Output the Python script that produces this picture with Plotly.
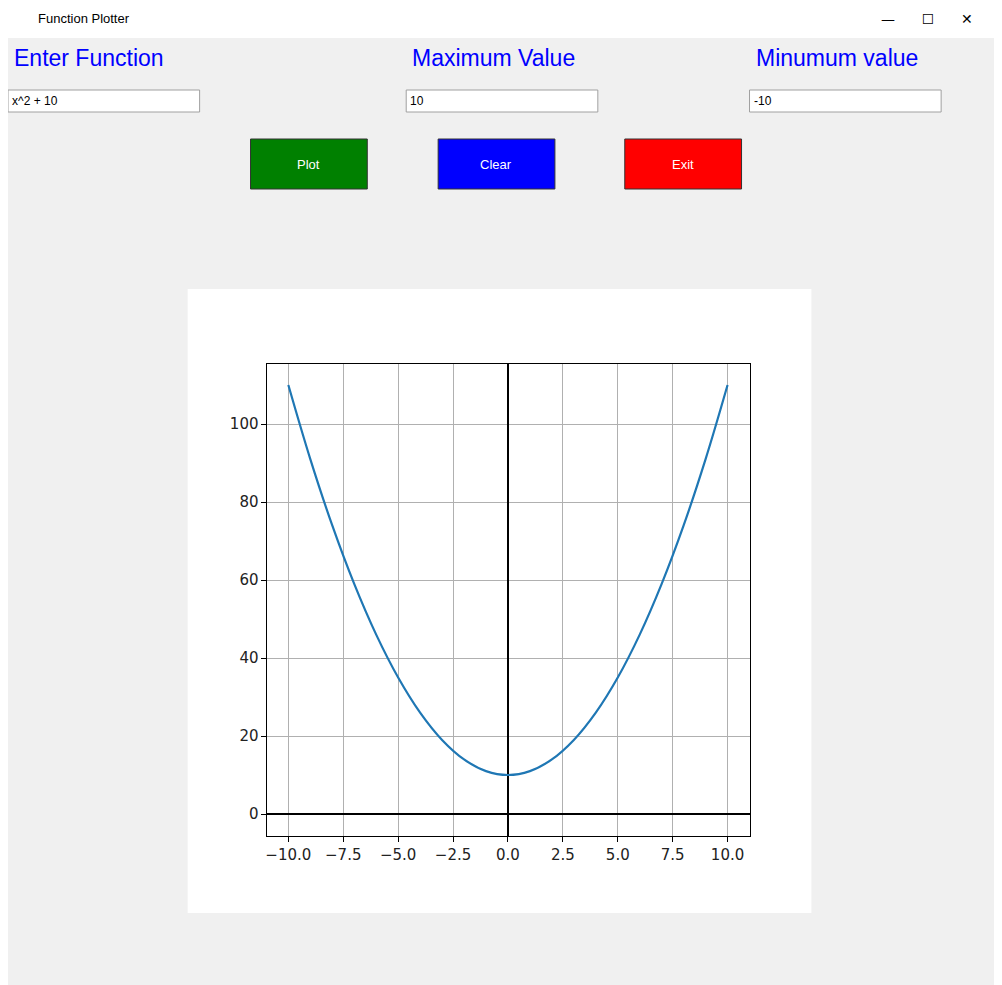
import plotly.graph_objects as go

W, H = 1002, 985
OFF = 8  # page body margin shifts the figure

# values (x^2 + 10)
xs = [-10, -9, -8, -7, -6, -5, -4, -3, -2, -1, 0, 1, 2, 3, 4, 5, 6, 7, 8, 9, 10]
ys = [110, 91, 74, 59, 46, 35, 26, 19, 14, 11, 10, 11, 14, 19, 26, 35, 46, 59, 74, 91, 110]

x_ticks = [-10, -7.5, -5, -2.5, 0, 2.5, 5, 7.5, 10]
x_labels = ["\u221210.0", "\u22127.5", "\u22125.0", "\u22122.5", "0.0", "2.5", "5.0", "7.5", "10.0"]
y_ticks = [0, 20, 40, 60, 80, 100]

labels = [("Enter Function", 10), ("Maximum Value", 409), ("Minumum value", 753)]
entries = [("x^2 + 10", 6), ("10", 405), ("-10", 749)]
buttons = [("Plot", 249, "#008000"), ("Clear", 437, "#0000ff"), ("Exit", 624, "#ff0000")]


def px(x):
    return (x - OFF) / W


def py(y):
    return 1 - (y - OFF) / H


def rect(x0, y0, x1, y1, fill, line="rgba(0,0,0,0)", lw=0, layer="below"):
    return dict(type="rect", xref="paper", yref="paper", x0=px(x0), x1=px(x1),
                y0=py(y1), y1=py(y0), fillcolor=fill, line=dict(color=line, width=lw), layer=layer)


fig = go.Figure()
fig.add_trace(go.Scatter(x=xs, y=ys, mode="lines", line=dict(color="#1f77b4", width=2.2, shape="spline"),
                         hoverinfo="skip"))

shapes = [
    rect(0, 0, W + OFF, 38, "white"),
    rect(186, 289, 811, 913, "white"),
]
ann = [dict(text="Function Plotter", x=px(34), y=py(19), xref="paper", yref="paper", showarrow=False,
            xanchor="left", yanchor="middle", font=dict(family="Liberation Sans", size=13, color="black")),
       dict(text="\u2014      \u2610      \u2715", x=px(975), y=py(19), xref="paper", yref="paper", showarrow=False,
            xanchor="right", yanchor="middle", font=dict(family="DejaVu Sans", size=14, color="black"))]
for t, x in labels:
    ann.append(dict(text=t, x=px(x), y=py(58), xref="paper", yref="paper", showarrow=False,
                    xanchor="left", yanchor="middle", font=dict(family="Liberation Sans", size=23, color="#0000ff")))
for t, x in entries:
    shapes.append(rect(x, 90, x + 192, 112, "white", "#a0a0a0", 1))
    ann.append(dict(text=t, x=px(x + 2), y=py(101), xref="paper", yref="paper", showarrow=False,
                    xanchor="left", yanchor="middle", font=dict(family="Liberation Sans", size=12, color="black")))
for t, x, c in buttons:
    shapes.append(rect(x, 139, x + 117, 189, c, "#333333", 1))
    ann.append(dict(text=t, x=px(x + 58), y=py(164), xref="paper", yref="paper", showarrow=False,
                    xanchor="center", yanchor="middle", font=dict(family="Liberation Sans", size=13, color="white")))

axis_common = dict(showgrid=True, gridcolor="#b0b0b0", gridwidth=1, zeroline=True, zerolinecolor="black",
                   zerolinewidth=2, showline=True, linecolor="black", linewidth=1, mirror=True,
                   ticks="outside", ticklen=5, tickcolor="black",
                   tickfont=dict(family="DejaVu Sans", size=15, color="#222222"))
fig.update_layout(
    width=W, height=H, margin=dict(l=0, r=0, t=0, b=0),
    paper_bgcolor="#f0f0f0", plot_bgcolor="white", showlegend=False,
    shapes=shapes, annotations=ann,
    xaxis=dict(domain=[px(266), px(749)], range=[-10.95, 11.0], tickvals=x_ticks, ticktext=x_labels, **axis_common),
    yaxis=dict(domain=[py(836), py(364)], range=[-5.64, 115.4], tickvals=y_ticks, **axis_common),
)

fig.write_html("out.html")
